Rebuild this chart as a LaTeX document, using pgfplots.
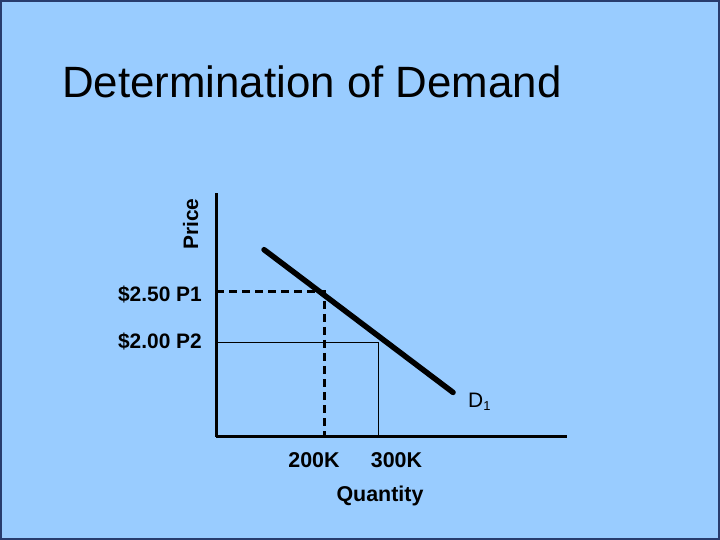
\documentclass[border=0pt]{standalone}
\usepackage{pgfplots}
\pgfplotsset{compat=1.18}
\usepackage{fontspec}
\setmainfont{Liberation Sans}
\definecolor{bgblue}{RGB}{153,204,255}
\definecolor{edge}{RGB}{40,60,110}
\begin{document}
\begin{tikzpicture}[x=1bp,y=1bp]
\useasboundingbox (0,0) rectangle (720,540);
\fill[bgblue] (0,0) rectangle (720,540);
\draw[edge,line width=2bp] (1,1) rectangle (719,539);
\begin{axis}[
  at={(216bp,103bp)}, anchor=south west,
  scale only axis, width=351bp, height=244bp,
  xmin=0, xmax=650, ymin=1.078, ymax=3.471,
  axis x line=bottom, axis y line=left,
  axis line style={-, line width=3bp, black},
  xtick=\empty, ytick=\empty,
  clip=false,
]
\addplot[black, line width=5.5bp, line cap=round] coordinates {(89,2.915) (439,1.515)};
\addplot[black, line width=3bp, dash pattern=on 8bp off 5bp] coordinates {(0,2.5) (200,2.5) (200,1.078)};
\addplot[black, line width=1bp] coordinates {(0,2.0) (300,2.0) (300,1.078)};
\end{axis}
\node[anchor=base west, font=\fontsize{44}{50}\selectfont, inner sep=0] at (62,442) {Determination of Demand};
\node[anchor=base, rotate=90, font=\fontsize{21}{25}\selectfont\bfseries, inner sep=0] at (198,316) {Price};
\node[anchor=base east, font=\fontsize{21}{25}\selectfont\bfseries, inner sep=0] at (202,238.5) {\$2.50 P1};
\node[anchor=base east, font=\fontsize{21}{25}\selectfont\bfseries, inner sep=0] at (202,191) {\$2.00 P2};
\node[anchor=base, font=\fontsize{21.5}{25}\selectfont\bfseries, inner sep=0] at (314,72) {200K};
\node[anchor=base, font=\fontsize{21.5}{25}\selectfont\bfseries, inner sep=0] at (396.5,72) {300K};
\node[anchor=base, font=\fontsize{21.5}{25}\selectfont\bfseries, inner sep=0] at (380,38.5) {Quantity};
\node[anchor=base west, font=\fontsize{21}{25}\selectfont, inner sep=0] at (468,132) {D\raisebox{-3bp}{\fontsize{13}{15}\selectfont 1}};
\end{tikzpicture}
\end{document}
